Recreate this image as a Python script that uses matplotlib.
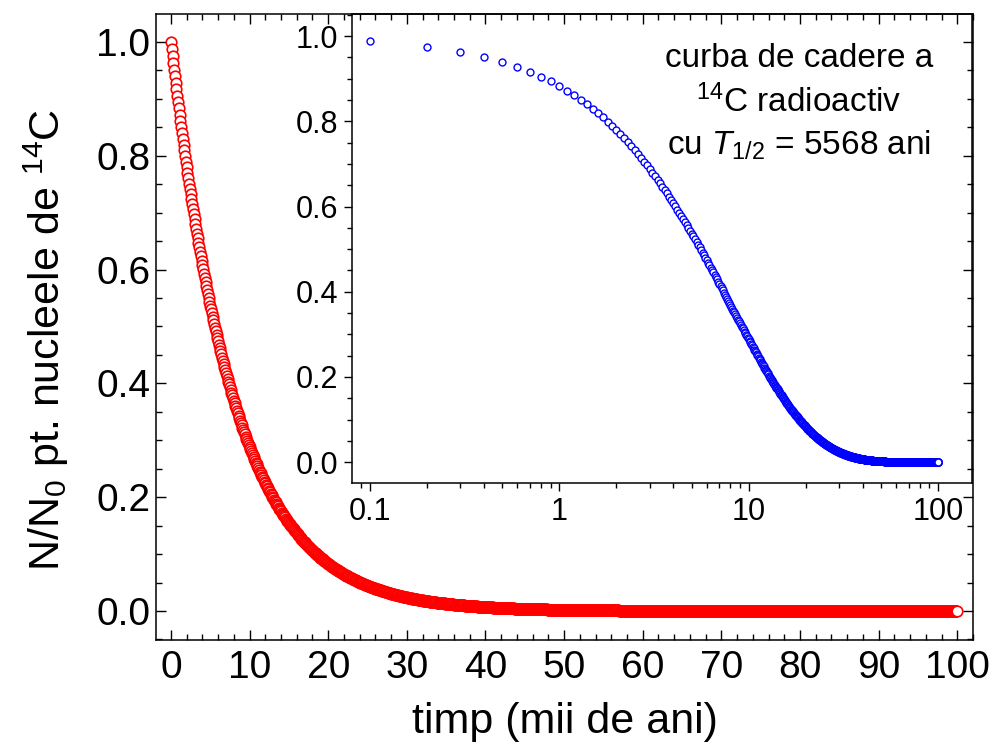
import matplotlib
matplotlib.use("Agg")
import matplotlib.pyplot as plt
import numpy as np
from matplotlib.ticker import MultipleLocator, FixedLocator, FixedFormatter, LogLocator, NullFormatter

plt.rcParams["font.family"] = ["Liberation Sans", "DejaVu Sans"]
plt.rcParams["mathtext.fontset"] = "custom"
plt.rcParams["mathtext.rm"] = "Liberation Sans"
plt.rcParams["mathtext.it"] = "Liberation Sans:italic"

# ===== data =====
half_life_kyr = 5.568                      # T1/2 = 5568 ani, as written on the chart
time_main = np.arange(0, 1001) * 0.1        # 0 ... 100 mii de ani, step 0.1
time_inset = np.arange(1, 1001) * 0.1       # 0.1 ... 100 (log axis, no zero)
frac_main = 0.5 ** (time_main / half_life_kyr)
frac_inset = 0.5 ** (time_inset / half_life_kyr)

x_ticks_main = list(range(0, 101, 10))
y_ticks = [0.0, 0.2, 0.4, 0.6, 0.8, 1.0]
inset_x_ticks = [0.1, 1, 10, 100]
inset_x_labels = ["0.1", "1", "10", "100"]

fig = plt.figure(figsize=(9.92, 7.44), dpi=100)

# ===== main axes =====
ax = fig.add_axes([156 / 992, 1 - 640 / 744, 817 / 992, 626 / 744])
ax.plot(time_main, frac_main, "o", ms=7.6, mfc="white", mec="#ff0000", mew=1.2)
ax.set_xlim(-1.9, 102.0)
ax.set_ylim(-0.051, 1.049)
ax.xaxis.set_major_locator(FixedLocator(x_ticks_main))
ax.xaxis.set_minor_locator(MultipleLocator(2))
ax.yaxis.set_major_locator(FixedLocator(y_ticks))
ax.yaxis.set_minor_locator(MultipleLocator(0.05))
ax.yaxis.set_major_formatter(matplotlib.ticker.FormatStrFormatter("%.1f"))
ax.tick_params(which="both", direction="in", top=True, right=True, width=1.0)
ax.tick_params(which="major", length=7.5, labelsize=28, pad=7)
ax.tick_params(which="minor", length=4.5)
ax.tick_params(axis="y", which="major", pad=4)
for s in ax.spines.values():
    s.set_linewidth(1.1)
ax.set_xlabel("timp (mii de ani)", fontsize=31)
ax.set_ylabel(r"N/N$_0$ pt. nucleele de $^{14}$C", fontsize=31)
ax.xaxis.set_label_coords(0.5, -0.099)
ax.yaxis.set_label_coords(-0.104, 0.48)

# ===== inset (log time axis) =====
axi = fig.add_axes([352 / 992, 1 - 483 / 744, 620 / 992, 469 / 744])
axi.patch.set_alpha(0)
axi.semilogx(time_inset, frac_inset, "o", ms=5.0, mfc="white", mec="#0000ff", mew=1.0)
axi.set_xlim(0.0803, 151)
axi.set_ylim(-0.049, 1.052)
axi.xaxis.set_major_locator(FixedLocator(inset_x_ticks))
axi.xaxis.set_major_formatter(FixedFormatter(inset_x_labels))
axi.xaxis.set_minor_locator(LogLocator(base=10, subs=np.arange(2, 10)))
axi.xaxis.set_minor_formatter(NullFormatter())
axi.yaxis.set_major_locator(FixedLocator(y_ticks))
axi.yaxis.set_minor_locator(MultipleLocator(0.05))
axi.yaxis.set_major_formatter(matplotlib.ticker.FormatStrFormatter("%.1f"))
axi.tick_params(which="both", direction="out", top=False, right=False, width=1.0)
axi.tick_params(which="major", length=6, labelsize=22, pad=4)
axi.tick_params(which="minor", length=3.5)
for s in axi.spines.values():
    s.set_linewidth(1.1)

fig.text(799 / 992, 1 - 67 / 744, "curba de cadere a", fontsize=24, ha="center", va="baseline")
fig.text(799 / 992, 1 - 112 / 744, r"$^{14}$C radioactiv", fontsize=24, ha="center", va="baseline")
fig.text(799 / 992, 1 - 155 / 744, r"cu $T_{1/2}$ = 5568 ani", fontsize=24, ha="center", va="baseline")

fig.savefig("out.png", dpi=100)
